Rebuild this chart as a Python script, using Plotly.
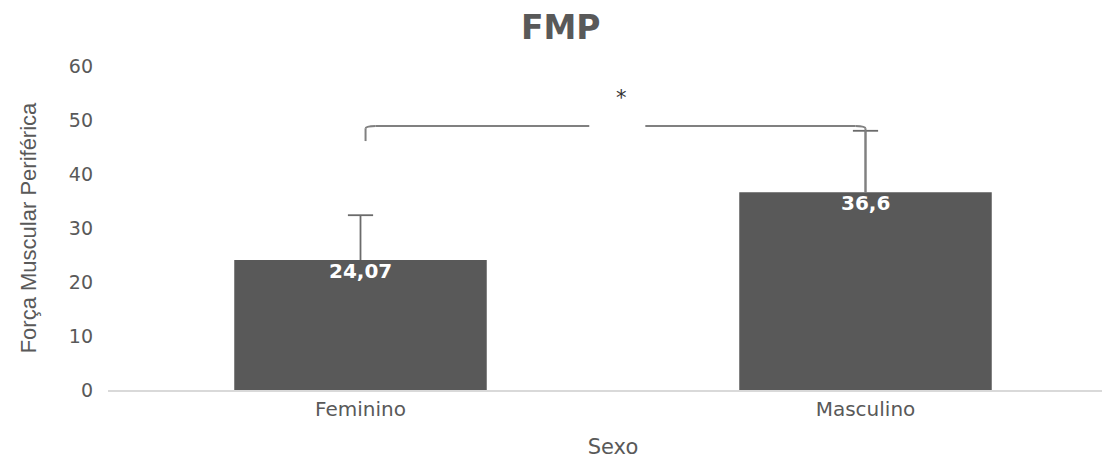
import plotly.graph_objects as go

categories = ["Feminino", "Masculino"]
means = [24.07, 36.6]
sd_plus = [8.3, 11.4]
labels = ["24,07", "36,6"]
y_ticks = [0, 10, 20, 30, 40, 50, 60]
sig_label = "*"
bracket_y = 48.9
bracket_left_drop = 46.1

WIDE = "DejaVu Sans, Verdana, sans-serif"
x_pos = list(range(len(categories)))

fig = go.Figure()
fig.add_trace(go.Bar(
    x=x_pos, y=means, width=0.5,
    marker=dict(color="#595959", line=dict(width=0)),
    showlegend=False, hoverinfo="skip",
))

# upper-only error bars: cap marker at mean+sd with stem going down to the bar
tops = [m + s for m, s in zip(means, sd_plus)]
fig.add_trace(go.Scatter(
    x=x_pos, y=tops, mode="markers",
    marker=dict(symbol="line-ew", size=18, color="#6b6b6b", line=dict(width=1.8, color="#6b6b6b")),
    error_y=dict(type="data", symmetric=False, array=[0] * len(means), arrayminus=sd_plus,
                 color="#6b6b6b", thickness=1.8, width=0),
    cliponaxis=False, showlegend=False,
))

for xi, m, lab in zip(x_pos, means, labels):
    fig.add_annotation(x=xi, y=m, text=f"<b>{lab}</b>", showarrow=False, yanchor="top", yshift=3,
                       font=dict(family=WIDE, size=20, color="white"))

line_style = dict(color="#808080", width=2)
# significance bracket
fig.add_shape(type="line", x0=0.01, x1=0.01, y0=bracket_left_drop, y1=bracket_y - 0.5, line=line_style)
fig.add_shape(type="path", path=f"M 0.01 {bracket_y-0.5} Q 0.01 {bracket_y} 0.03 {bracket_y}", line=line_style)
fig.add_shape(type="line", x0=0.03, x1=0.453, y0=bracket_y, y1=bracket_y, line=line_style)
fig.add_shape(type="line", x0=0.564, x1=0.98, y0=bracket_y, y1=bracket_y, line=line_style)
fig.add_shape(type="path", path=f"M 0.98 {bracket_y} Q 1.0 {bracket_y} 1.0 {bracket_y-0.5}", line=line_style)
fig.add_shape(type="line", x0=1.0, x1=1.0, y0=bracket_y - 0.5, y1=means[1], line=line_style)

fig.add_annotation(x=0.517, y=54, text=sig_label, showarrow=False,
                   font=dict(family=WIDE, size=21, color="#333333"))

fig.update_layout(
    width=1110, height=461,
    margin=dict(l=100, r=0, t=58, b=79, autoexpand=False),
    plot_bgcolor="white", paper_bgcolor="white",
    title=dict(text="<b>FMP</b>", x=0.498, xanchor="center", y=0.957, yanchor="middle",
               font=dict(family=WIDE, size=33, color="#595959")),
    xaxis=dict(
        range=[-0.5, 1.5], tickmode="array", tickvals=x_pos, ticktext=categories,
        showgrid=False, zeroline=False, showline=True, linecolor="#d9d9d9", linewidth=1.5,
        ticks="", automargin=False,
        tickfont=dict(family=WIDE, size=20, color="#595959"),
        title=dict(text="Sexo", standoff=20,
                   font=dict(family=WIDE, size=21, color="#595959")),
    ),
    yaxis=dict(
        range=[0, 60], tickvals=y_ticks, showgrid=False, zeroline=False, showline=False,
        ticks="", ticklabelstandoff=14, automargin=False,
        tickfont=dict(family=WIDE, size=19, color="#595959"),
        title=dict(text="Força Muscular Periférica", standoff=26,
                   font=dict(family="Liberation Sans, Arial, sans-serif", size=22, color="#595959")),
    ),
)

fig.write_html("out.html")
